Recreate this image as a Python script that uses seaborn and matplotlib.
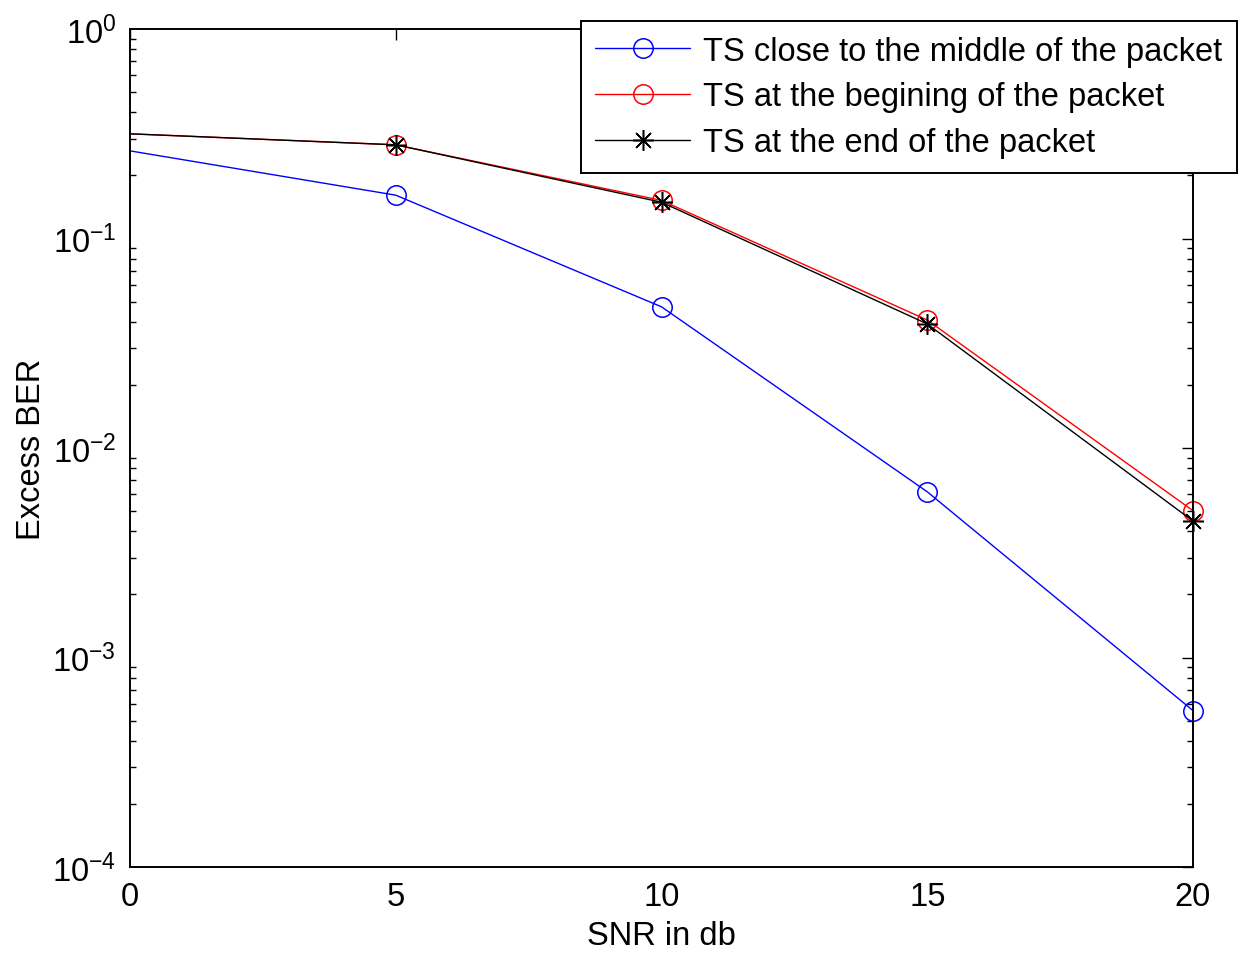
import pandas as pd
import matplotlib
matplotlib.use("Agg")
import matplotlib.pyplot as plt
import seaborn as sns
from matplotlib.ticker import LogLocator, NullFormatter

# data (x = 0 has no marker, line only)
snr = [0, 5, 10, 15, 20]
ber_middle = [0.262, 0.161, 0.0472, 0.00618, 0.000558]
ber_begin = [0.316, 0.280, 0.152, 0.0408, 0.00502]
ber_end = [0.316, 0.280, 0.149, 0.0391, 0.00448]
labels = ["TS close to the middle of the packet",
          "TS at the begining of the packet",
          "TS at the end of the packet"]

sns.set_style("white")
plt.rcParams['font.family'] = ['Liberation Sans', 'DejaVu Sans']
plt.rcParams['mathtext.fontset'] = 'custom'
plt.rcParams['mathtext.rm'] = 'Liberation Sans'
plt.rcParams['text.color'] = 'black'
plt.rcParams['axes.labelcolor'] = 'black'
plt.rcParams['xtick.color'] = 'black'
plt.rcParams['ytick.color'] = 'black'

fs = 23.5

fig = plt.figure(figsize=(12.52, 9.54), dpi=100)
ax = fig.add_axes([130 / 1252, 1 - 868 / 954, (1193 - 130) / 1252, (868 - 30) / 954])

series = [
    (ber_middle, 'blue', 'o', labels[0]),
    (ber_begin, 'red', 'o', labels[1]),
    (ber_end, 'black', (8, 2, 0), labels[2]),
]
for vals, col, mk, lab in series:
    df = pd.DataFrame({'SNR': snr, 'BER': vals})
    sns.lineplot(data=df, x='SNR', y='BER', ax=ax, color=col, marker=mk,
                 markersize=14 if mk == 'o' else 15, mfc='none', mec=col, mew=1.1,
                 linewidth=1.0, markevery=[1, 2, 3, 4], label=lab, clip_on=False)

ax.set_yscale('log')
ax.set_xlim(0, 20)
ax.set_ylim(1e-4, 1)
ax.set_xticks([0, 5, 10, 15, 20])
ax.yaxis.set_major_locator(LogLocator(base=10, numticks=10))
ax.yaxis.set_minor_locator(LogLocator(base=10, subs=range(2, 10), numticks=20))
ax.yaxis.set_minor_formatter(NullFormatter())
ax.tick_params(which='major', direction='in', length=8, width=1.0, top=True, right=True,
               labelsize=fs, pad=10)
ax.tick_params(which='minor', direction='in', length=4, width=1.0, left=True, right=True)
ax.tick_params(axis='x', which='minor', bottom=False, top=False)
for sp in ax.spines.values():
    sp.set_linewidth(1.4)
    sp.set_color('black')

ax.set_xlabel('SNR in db', fontsize=fs, labelpad=6)
ax.set_ylabel('Excess BER', fontsize=fs, labelpad=4)

handles, _ = ax.get_legend_handles_labels()
leg = ax.legend(handles, labels, loc='upper right', bbox_to_anchor=(1237 / 1252, 1 - 22 / 954),
                bbox_transform=fig.transFigure, fontsize=fs, frameon=True, fancybox=False,
                edgecolor='black', framealpha=1, borderaxespad=0, handlelength=2.9,
                handletextpad=0.4, labelspacing=0.45, borderpad=0.45)
leg.get_frame().set_linewidth(1.4)
leg.set_zorder(5)

fig.savefig('out.png', dpi=100)
